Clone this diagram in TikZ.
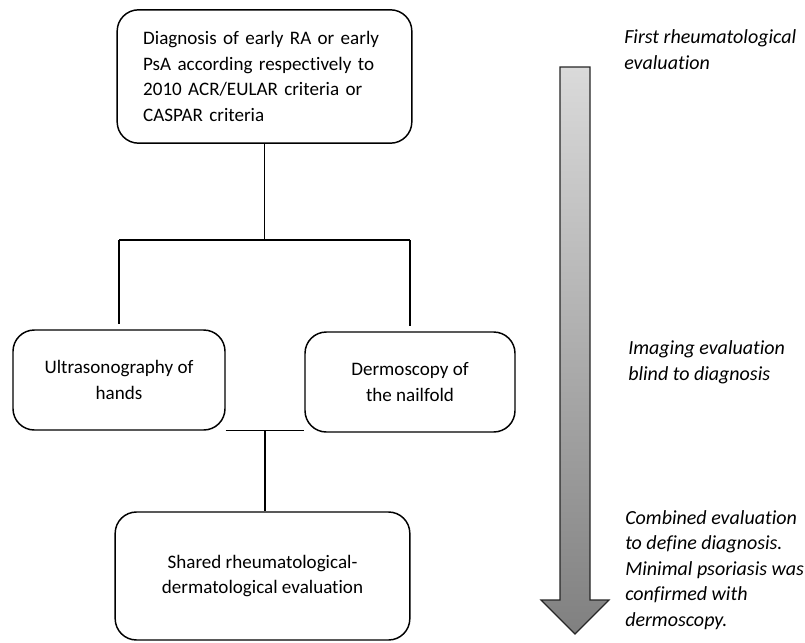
\documentclass[tikz,border=0pt]{standalone}
\usepackage{fontspec}
\setmainfont{Carlito}[Ligatures=NoCommon]
\usetikzlibrary{calc}
\newcommand\boxfont{\fontsize{14.3}{19.2}\selectfont}
\newcommand\notefont{\fontsize{15}{19.2}\selectfont\itshape}
\tikzset{
  stagebox/.style={draw, line width=1.1pt, rounded corners=16pt, align=center, inner sep=0pt, font=\boxfont},
  link/.style={line width=0.9pt},
  note/.style={anchor=west, align=left, inner sep=0pt, font=\notefont}
}
\begin{document}
\begin{tikzpicture}[x=0.75pt, y=-0.75pt]
  \clip (0,0) rectangle (805,642);
  \node[stagebox, minimum width=221pt, minimum height=100pt, text width=182pt, align=left]
    (diag) at (264.5,76.5) {Diagnosis of early RA or early\\PsA according respectively to\\2010 ACR/EULAR criteria or\\CASPAR criteria};
  \node[stagebox, minimum width=159pt, minimum height=75pt] (ultra) at (119,380) {Ultrasonography of\\hands};
  \node[stagebox, minimum width=157.5pt, minimum height=75pt] (dermo) at (410,382) {Dermoscopy of\\the nailfold};
  \node[stagebox, minimum width=221pt, minimum height=96pt] (shared) at (262.5,576) {Shared rheumatological-\\dermatological evaluation};
  \coordinate (split) at (264.5,240);
  \coordinate (join) at ($(ultra.south east)!0.5!(ultra.south east -| dermo.south west)$);
  \begin{scope}[link]
    \draw (diag.south) -- (split);
    \draw (ultra.north |- split) -- (dermo.north |- split);
    \draw[shorten >=4pt] (ultra.north |- split) -- (ultra.north);
    \draw[shorten >=4pt] (dermo.north |- split) -- (dermo.north);
    \draw (ultra.south east) -- (ultra.south east -| dermo.south west);
    \draw (join) -- (join |- shared.north);
  \end{scope}
  \shade[top color={rgb,255:red,218;green,218;blue,218}, bottom color={rgb,255:red,128;green,128;blue,128}, draw=black!85, line width=0.9pt]
    (560,67) -- (590,67) -- (590,600) -- (609,600) -- (575,634) -- (541,600) -- (560,600) -- cycle;
  \node[note] (first) at (624,49.5) {First rheumatological\\evaluation};
  \node[note] (imaging) at (628,362.5) {Imaging evaluation\\blind to diagnosis};
  \node[note] (combined) at (625,570) {Combined evaluation\\to define diagnosis.\\Minimal psoriasis was\\confirmed with\\dermoscopy.};
\end{tikzpicture}
\end{document}
